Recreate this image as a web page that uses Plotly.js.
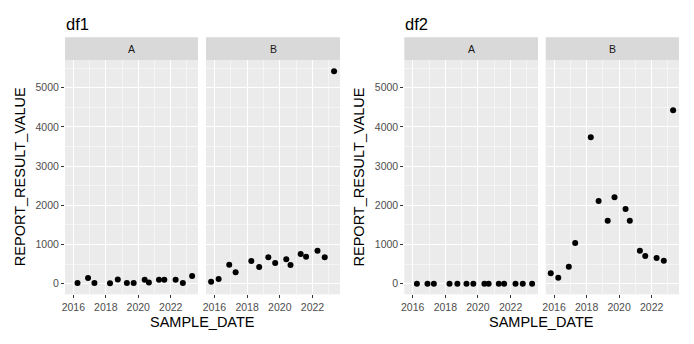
<!DOCTYPE html>
<html>
<head>
<meta charset="utf-8">
<script src="https://cdn.plot.ly/plotly-3.0.1.min.js"></script>
<style>html,body{margin:0;padding:0;background:#fff;}#chart{width:694px;height:344px;}</style>
</head>
<body>
<div id="chart"></div>
<script>
// ---- data ----
var chartTitles = ["df1", "df2"];
var facetLabels = ["A", "B"];
var xTitle = "SAMPLE_DATE";
var yTitle = "REPORT_RESULT_VALUE";

var datesA = ["2016-04-05","2016-11-28","2017-04-20","2018-04-05","2018-09-28","2019-04-20","2019-09-20",
              "2020-05-25","2020-08-28","2021-04-12","2021-08-10","2022-04-22","2022-10-01","2023-04-28"];
var datesB = ["2015-10-20","2016-04-05","2016-11-28","2017-04-20","2018-04-05","2018-09-28","2019-04-20","2019-09-20",
              "2020-05-25","2020-08-28","2021-04-12","2021-08-10","2022-04-22","2022-10-01","2023-04-28"];

var df1A = [20, 145, 20, 15, 110, 20, 20, 100, 30, 100, 100, 100, 20, 200];
var df1B = [52, 120, 485, 290, 580, 425, 673, 528, 622, 477, 758, 690, 843, 673, 5420];
var df2A = [0, 0, 0, 0, 0, 0, 0, 0, 0, 0, 0, 0, 0, 0];
var df2B = [265, 153, 434, 1038, 3735, 2110, 1607, 2204, 1906, 1607, 843, 707, 656, 587, 4423];

var xTickVals = ["2016-01-01","2018-01-01","2020-01-01","2022-01-01"];
var xTickText = ["2016","2018","2020","2022"];
var yTickVals = [0, 1000, 2000, 3000, 4000, 5000];

// ---- layout helpers ----
var FONT = "Liberation Sans, Arial, Helvetica, sans-serif";
var W = 694, H = 344;
var xRange = ["2015-06-28", "2023-09-07"];
var yRange = [-270, 5707];
var panelsX = [[65,198],[206,340],[404.3,538],[545.7,679]];
var panelTop = 60, panelBottom = 294.3, stripTop = 37.3;
function px(x){ return x / W; }
function py(y){ return 1 - y / H; }

var mk = {color: "#000", size: 6, line: {width: 0}};
var traces = [
  {x: datesA, y: df1A, xaxis: "x",  yaxis: "y",  type: "scatter", mode: "markers", marker: mk},
  {x: datesB, y: df1B, xaxis: "x2", yaxis: "y2", type: "scatter", mode: "markers", marker: mk},
  {x: datesA, y: df2A, xaxis: "x3", yaxis: "y3", type: "scatter", mode: "markers", marker: mk},
  {x: datesB, y: df2B, xaxis: "x4", yaxis: "y4", type: "scatter", mode: "markers", marker: mk}
];

var layout = {
  width: W, height: H,
  margin: {l: 0, r: 0, t: 0, b: 0},
  paper_bgcolor: "#ffffff",
  plot_bgcolor: "#ebebeb",
  showlegend: false,
  font: {family: FONT, color: "#000"},
  shapes: [], annotations: []
};

for (var i = 0; i < 4; i++) {
  var s = i === 0 ? "" : String(i + 1);
  var showY = (i % 2 === 0);
  layout["xaxis" + s] = {
    type: "date", domain: [px(panelsX[i][0]), px(panelsX[i][1])], range: xRange,
    anchor: "y" + s, tickmode: "array", tickvals: xTickVals, ticktext: xTickText,
    ticks: "outside", ticklen: 3, tickwidth: 1, tickcolor: "#333333",
    tickfont: {family: FONT, size: 10.5, color: "#4d4d4d"},
    showgrid: true, gridcolor: "#ffffff", gridwidth: 1,
    minor: {tickvals: ["2015-01-01","2017-01-01","2019-01-01","2021-01-01","2023-01-01"],
            showgrid: true, gridcolor: "#ffffff", gridwidth: 0.5, ticks: ""},
    zeroline: false, showline: false, fixedrange: true
  };
  layout["yaxis" + s] = {
    domain: [py(panelBottom), py(panelTop)], range: yRange, anchor: "x" + s,
    tickmode: "array", tickvals: yTickVals, showticklabels: showY,
    ticks: showY ? "outside" : "", ticklen: 3, tickwidth: 1, tickcolor: "#333333",
    tickfont: {family: FONT, size: 10.5, color: "#4d4d4d"},
    showgrid: true, gridcolor: "#ffffff", gridwidth: 1,
    minor: {tickvals: [500,1500,2500,3500,4500,5500], showgrid: true, gridcolor: "#ffffff", gridwidth: 0.5, ticks: ""},
    zeroline: false, showline: false, fixedrange: true
  };
  // strip
  layout.shapes.push({type: "rect", xref: "paper", yref: "paper", layer: "below",
    x0: px(panelsX[i][0]), x1: px(panelsX[i][1]), y0: py(panelTop), y1: py(stripTop),
    fillcolor: "#d9d9d9", line: {width: 0}});
  layout.annotations.push({xref: "paper", yref: "paper",
    x: px((panelsX[i][0] + panelsX[i][1]) / 2), y: py((panelTop + stripTop) / 2),
    text: facetLabels[i % 2], showarrow: false, xanchor: "center", yanchor: "middle",
    font: {family: FONT, size: 10.5, color: "#1a1a1a"}});
}

for (var c = 0; c < 2; c++) {
  var left = panelsX[c * 2][0], right = panelsX[c * 2 + 1][1];
  layout.annotations.push({xref: "paper", yref: "paper", x: px(left - 1), y: py(24),
    text: chartTitles[c], showarrow: false, xanchor: "left", yanchor: "middle",
    font: {family: FONT, size: 16.5, color: "#000"}});
  layout.annotations.push({xref: "paper", yref: "paper", x: px((left + right) / 2), y: py(322),
    text: xTitle, showarrow: false, xanchor: "center", yanchor: "middle",
    font: {family: FONT, size: 14.5, color: "#000"}});
  layout.annotations.push({xref: "paper", yref: "paper", x: px(left - 45), y: py((panelTop + panelBottom) / 2),
    text: yTitle, showarrow: false, xanchor: "center", yanchor: "middle", textangle: -90,
    font: {family: FONT, size: 14.5, color: "#000"}});
}

Plotly.newPlot("chart", traces, layout, {displayModeBar: false, staticPlot: true});
</script>
</body>
</html>
